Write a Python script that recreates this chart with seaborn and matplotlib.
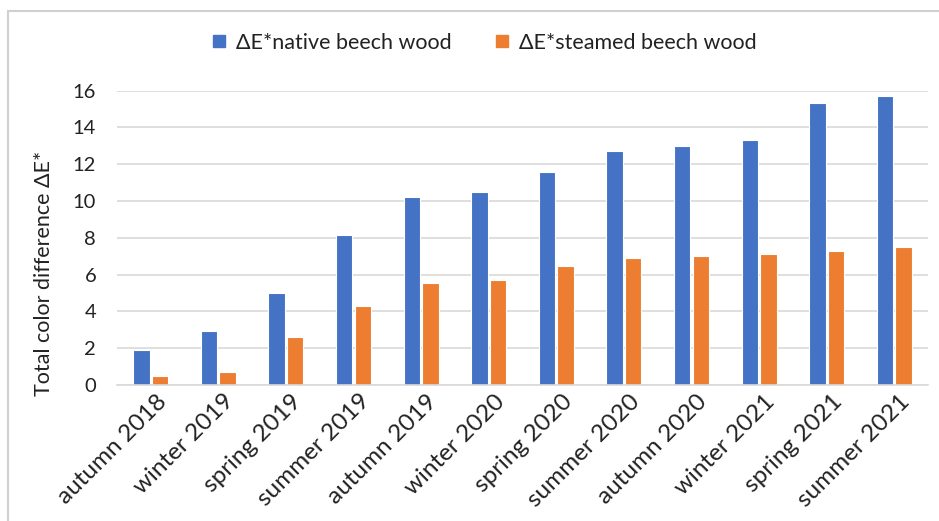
import matplotlib
matplotlib.use("Agg")
import matplotlib.pyplot as plt
import seaborn as sns
import pandas as pd
from matplotlib.patches import Rectangle
from matplotlib.lines import Line2D
from matplotlib.transforms import ScaledTranslation

seasons = ["autumn 2018", "winter 2019", "spring 2019", "summer 2019", "autumn 2019",
           "winter 2020", "spring 2020", "summer 2020", "autumn 2020", "winter 2021",
           "spring 2021", "summer 2021"]
native = [1.9, 2.94, 5.02, 8.14, 10.22, 10.5, 11.6, 12.7, 13.0, 13.33, 15.33, 15.7]
steamed = [0.49, 0.72, 2.59, 4.3, 5.53, 5.69, 6.49, 6.9, 7.01, 7.12, 7.29, 7.5]
series_names = ["ΔE*native beech wood", "ΔE*steamed beech wood"]
colors = ["#4472C4", "#ED7D31"]

df = pd.DataFrame({
    "season": seasons * 2,
    "value": native + steamed,
    "series": [series_names[0]] * len(seasons) + [series_names[1]] * len(seasons),
})

sns.set_theme(style="white")
plt.rcParams["font.family"] = ["Lato", "DejaVu Sans"]

W, H = 939, 521
fig = plt.figure(figsize=(W / 100, H / 100), dpi=100)
ax = fig.add_axes([117 / W, 1 - 385 / H, (928 - 117) / W, (385 - 90.7) / H])

sns.barplot(data=df, x="season", y="value", hue="series", palette=colors,
            width=0.55, gap=0.12, ax=ax, legend=False, edgecolor="white", linewidth=0.8,
            saturation=1)

ax.set_ylim(0, 16)
ax.set_yticks(range(0, 17, 2))
ax.set_xlim(-0.5, len(seasons) - 0.5)
ax.yaxis.grid(True, color="#D9D9D9", linewidth=1.2)
ax.set_axisbelow(True)
for s in ["top", "right", "left"]:
    ax.spines[s].set_visible(False)
ax.spines["bottom"].set_color("#D9D9D9")
ax.spines["bottom"].set_linewidth(1.2)
ax.tick_params(axis="both", length=0, colors="#222222")
ax.tick_params(axis="y", pad=15, labelsize=14.5)
ax.tick_params(axis="x", pad=4, labelsize=17.5)
ax.set_xlabel("")
ax.set_ylabel("")
offset = ScaledTranslation(5 / 100, 0, fig.dpi_scale_trans)
for lab in ax.get_xticklabels():
    lab.set_rotation(45)
    lab.set_ha("right")
    lab.set_rotation_mode("anchor")
    lab.set_transform(lab.get_transform() + offset)

fig.text(44 / W, 1 - 273 / H, "Total color difference ΔE*", rotation=90,
         ha="center", va="center", fontsize=15.5, color="#222222")

handles = [Line2D([], [], marker="s", linestyle="none", markersize=9,
                  markerfacecolor=c, markeredgecolor=c) for c in colors]
fig.legend(handles, series_names, loc="center", bbox_to_anchor=(484 / W, 1 - 43 / H),
           ncol=2, frameon=False, fontsize=15.5, handlelength=0.7, handletextpad=0.45,
           columnspacing=2.0, labelcolor="#222222")

fig.patches.append(Rectangle((8 / W, -0.1), 1.1, 1 - 11 / H + 0.1, transform=fig.transFigure,
                             fill=False, edgecolor="#D0D0D0", linewidth=1.5))

fig.savefig("out.png", dpi=100)
